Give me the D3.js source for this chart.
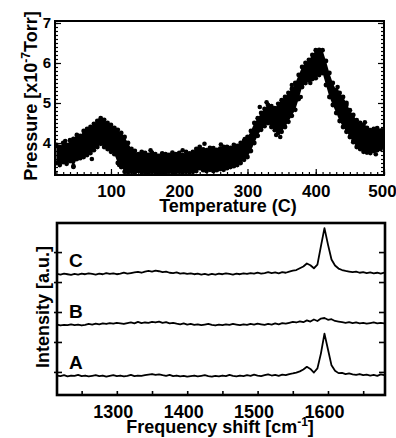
<!DOCTYPE html>
<html>
<head>
<meta charset="utf-8">
<script src="https://cdn.jsdelivr.net/npm/d3@7"></script>
<style>
  body { margin: 0; background: #fff; }
  svg { display: block; font-family: "Liberation Sans", Arial, Helvetica, sans-serif; font-weight: bold; }
</style>
</head>
<body>
<svg id="chart" width="396" height="438"></svg>
<script>
// ---- top panel: pressure vs temperature (band of scattered readings) ----
const temps = [20,25,30,35,40,45,50,55,60,65,70,75,80,85,90,95,100,105,110,115,
  120,125,130,135,140,145,150,155,160,165,170,175,180,185,190,195,200,205,210,215,
  220,225,230,235,240,245,250,255,260,265,270,275,280,285,290,295,300,305,310,315,
  320,325,330,335,340,345,350,355,360,365,370,375,380,385,390,395,400,405,410,415,
  420,425,430,435,440,445,450,455,460,465,470,475,480,485,490,495,500];

// upper / lower edge of the cloud of readings, x10^-7 Torr
const pressureUpper = [3.95,3.9,4.0,3.95,4.07,4.1,4.2,4.18,4.3,4.35,4.4,4.48,4.55,4.62,4.58,4.5,4.45,4.38,4.33,4.25,
  4.15,4.0,3.85,3.8,3.72,3.78,3.75,3.7,3.76,3.72,3.68,3.74,3.72,3.7,3.76,3.72,3.75,3.7,3.78,3.74,
  3.78,3.85,3.9,3.84,3.82,3.88,3.87,3.83,3.86,3.9,3.9,3.88,3.95,3.93,4.0,4.05,4.15,4.3,4.5,4.62,
  4.75,4.85,4.95,4.92,4.87,4.98,5.07,5.15,5.25,5.35,5.5,5.7,5.9,6.0,6.08,6.2,6.32,6.33,6.32,6.05,
  5.75,5.5,5.32,5.25,5.15,5.0,4.82,4.7,4.57,4.5,4.45,4.38,4.32,4.35,4.37,4.3,4.25];
const pressureLower = [3.5,3.45,3.52,3.48,3.55,3.42,3.6,3.62,3.65,3.7,3.75,3.82,3.9,3.98,3.9,3.85,3.78,3.72,3.5,3.4,
  3.28,3.27,3.28,3.26,3.3,3.27,3.27,3.25,3.28,3.26,3.25,3.27,3.25,3.28,3.26,3.27,3.28,3.26,3.28,3.27,
  3.28,3.3,3.37,3.32,3.3,3.33,3.3,3.32,3.35,3.33,3.37,3.4,3.42,3.45,3.5,3.58,3.65,3.8,4.0,4.18,
  4.33,4.42,4.5,4.4,4.32,4.25,4.28,4.4,4.53,4.68,4.83,5.1,5.4,5.5,5.57,5.6,5.62,5.7,5.75,5.45,
  5.15,4.95,4.75,4.55,4.4,4.28,4.15,4.02,3.9,3.85,3.78,3.76,3.75,3.8,3.82,3.85,3.9];
// isolated readings outside the main cloud [temperature, pressure]
const strayReadings = [[261,3.96],[237,3.98],[348,4.15],[342,4.2],[318,4.9],[392,5.5],[445,4.95],
  [497,4.32],[45,3.4],[33,4.05],[72,3.6],[112,3.45],[158,3.82],[205,3.82],[296,4.1],[328,5.02],
  [365,5.45],[378,5.15],[432,5.4],[455,4.05],[472,4.52],[488,3.72]];

const pressureTicks = [4,5,6,7];
const tempTicks = [100,200,300,400,500];

// ---- bottom panel: Raman spectra A, B, C (offset) ----
const freqs = [1215,1220,1225,1230,1235,1240,1245,1250,1255,1260,
  1265,1270,1275,1280,1285,1290,1295,1300,1305,1310,
  1315,1320,1325,1330,1335,1340,1345,1350,1355,1360,
  1365,1370,1375,1380,1385,1390,1395,1400,1405,1410,
  1415,1420,1425,1430,1435,1440,1445,1450,1455,1460,
  1465,1470,1475,1480,1485,1490,1495,1500,1505,1510,
  1515,1520,1525,1530,1535,1540,1545,1550,1555,1560,
  1565,1570,1575,1580,1585,1590,1595,1600,1605,1610,
  1615,1620,1625,1630,1635,1640,1645,1650,1655,1660,
  1665,1670,1675,1680];
const spectrumA = [0.88,0.86,0.89,0.85,0.88,0.87,0.90,0.86,0.88,0.85,
  0.87,0.89,0.86,0.88,0.84,0.87,0.89,0.86,0.88,0.85,
  0.87,0.90,0.86,0.88,0.87,0.89,0.91,0.93,0.90,0.92,
  0.89,0.87,0.90,0.86,0.88,0.85,0.87,0.84,0.86,0.88,
  0.85,0.87,0.89,0.86,0.84,0.87,0.85,0.88,0.86,0.90,
  0.87,0.85,0.88,0.86,0.89,0.87,0.91,0.88,0.86,0.89,
  0.92,0.88,0.90,0.87,0.91,0.89,0.93,0.95,0.98,1.02,
  1.08,1.17,1.10,0.98,1.12,1.62,2.28,1.75,1.22,1.04,
  0.96,0.97,0.93,0.95,0.92,0.90,0.93,0.89,0.91,0.88,
  0.90,0.87,0.92,0.89];
const spectrumB = [2.58,2.55,2.57,2.56,2.59,2.56,2.58,2.55,2.57,2.60,
  2.58,2.61,2.59,2.62,2.60,2.63,2.61,2.64,2.62,2.60,
  2.63,2.65,2.62,2.67,2.63,2.65,2.64,2.67,2.65,2.68,
  2.64,2.66,2.62,2.64,2.61,2.59,2.62,2.58,2.60,2.57,
  2.59,2.56,2.58,2.60,2.57,2.55,2.58,2.56,2.59,2.57,
  2.60,2.58,2.56,2.59,2.57,2.60,2.58,2.61,2.59,2.57,
  2.60,2.58,2.62,2.59,2.63,2.61,2.64,2.67,2.65,2.69,
  2.66,2.72,2.68,2.75,2.70,2.78,2.80,2.74,2.76,2.70,
  2.68,2.66,2.64,2.66,2.63,2.65,2.62,2.64,2.61,2.63,
  2.65,2.62,2.64,2.62];
const spectrumC = [4.27,4.25,4.28,4.26,4.24,4.27,4.25,4.28,4.26,4.29,
  4.27,4.25,4.28,4.26,4.30,4.27,4.29,4.26,4.28,4.31,
  4.28,4.30,4.32,4.34,4.31,4.35,4.37,4.35,4.38,4.36,
  4.33,4.35,4.31,4.30,4.32,4.28,4.30,4.27,4.29,4.26,
  4.28,4.25,4.27,4.24,4.27,4.25,4.28,4.26,4.29,4.27,
  4.25,4.28,4.26,4.29,4.27,4.30,4.28,4.31,4.28,4.30,
  4.33,4.30,4.32,4.29,4.33,4.31,4.35,4.38,4.40,4.46,
  4.52,4.62,4.56,4.46,4.58,5.20,5.80,5.25,4.75,4.55,
  4.45,4.40,4.37,4.35,4.33,4.35,4.31,4.33,4.30,4.32,
  4.29,4.31,4.28,4.31];
const spectra = [
  {label: 'A', values: spectrumA},
  {label: 'B', values: spectrumB},
  {label: 'C', values: spectrumC}
];
const freqTicks = [1300,1400,1500,1600];
const freqMinorTicks = [1250,1300,1350,1400,1450,1500,1550,1600,1650];
const intensityTicks = [1,2,3,4,5];

const svg = d3.select('#chart');
svg.append('rect').attr('width', 396).attr('height', 438).attr('fill', '#fff');

function cleanAxis(g) {
  g.attr('font-family', null).attr('font-size', null);
  g.select('.domain').remove();
  g.selectAll('.tick line').attr('stroke', '#000').attr('stroke-width', 1.2);
  g.selectAll('text').attr('fill', '#000');
}

// ================= top panel =================
const topBox = {left: 55, right: 384, top: 21, bottom: 175};
const xT = d3.scaleLinear().domain([18, 500]).range([topBox.left, topBox.right]);
const yT = d3.scaleLinear().domain([3.2, 7.05]).range([topBox.bottom, topBox.top]);

svg.append('clipPath').attr('id', 'clipTop')
  .append('rect').attr('x', topBox.left).attr('y', topBox.top)
  .attr('width', topBox.right - topBox.left).attr('height', topBox.bottom - topBox.top);

const cloud = svg.append('g').attr('clip-path', 'url(#clipTop)');
cloud.append('path')
  .datum(temps)
  .attr('fill', '#000')
  .attr('d', d3.area()
    .x((d) => xT(d))
    .y0((d, i) => yT(pressureLower[i]))
    .y1((d, i) => yT(pressureUpper[i])));
cloud.selectAll('circle.up')
  .data(temps)
  .join('circle')
  .attr('class', 'up')
  .attr('cx', (d) => xT(d))
  .attr('cy', (d, i) => yT(pressureUpper[i]))
  .attr('r', 2.4);
cloud.selectAll('circle.lo')
  .data(temps)
  .join('circle')
  .attr('class', 'lo')
  .attr('cx', (d) => xT(d))
  .attr('cy', (d, i) => yT(pressureLower[i]))
  .attr('r', 2.4);
cloud.selectAll('circle.stray')
  .data(strayReadings)
  .join('circle')
  .attr('class', 'stray')
  .attr('cx', (d) => xT(d[0]))
  .attr('cy', (d) => yT(d[1]))
  .attr('r', 2.3);

// ticks: minor + major, all pointing inward
const pMinor = d3.range(33, 71).map((v) => v / 10);
const tMinor = d3.range(20, 501, 10);

svg.append('g').attr('transform', `translate(${topBox.left},0)`)
  .call(d3.axisLeft(yT).tickValues(pMinor).tickSize(-3).tickFormat(''))
  .call(cleanAxis);
svg.append('g').attr('transform', `translate(${topBox.left},0)`)
  .call(d3.axisLeft(yT).tickValues(pressureTicks).tickSize(-6).tickPadding(4).tickFormat(d3.format('d')))
  .call(cleanAxis)
  .selectAll('text').attr('font-size', 15);
svg.append('g').attr('transform', `translate(${topBox.right},0)`)
  .call(d3.axisRight(yT).tickValues(pMinor).tickSize(-3).tickFormat(''))
  .call(cleanAxis);
svg.append('g').attr('transform', `translate(${topBox.right},0)`)
  .call(d3.axisRight(yT).tickValues(pressureTicks).tickSize(-6).tickFormat(''))
  .call(cleanAxis);
svg.append('g').attr('transform', `translate(0,${topBox.bottom})`)
  .call(d3.axisBottom(xT).tickValues(tMinor).tickSize(-3).tickFormat(''))
  .call(cleanAxis);
svg.append('g').attr('transform', `translate(0,${topBox.bottom})`)
  .call(d3.axisBottom(xT).tickValues(tempTicks).tickSize(-6).tickPadding(10).tickFormat(d3.format('d')))
  .call(cleanAxis)
  .selectAll('text').attr('font-size', 17).attr('dx', (d) => d === 500 ? -2 : 0);

svg.append('rect')
  .attr('x', topBox.left).attr('y', topBox.top)
  .attr('width', topBox.right - topBox.left).attr('height', topBox.bottom - topBox.top)
  .attr('fill', 'none').attr('stroke', '#000').attr('stroke-width', 2);

svg.append('text')
  .attr('x', 228).attr('y', 212)
  .attr('text-anchor', 'middle').attr('font-size', 18)
  .text('Temperature (C)');

const pLabel = svg.append('text')
  .attr('transform', 'translate(37,96) rotate(-90)')
  .attr('text-anchor', 'middle').attr('font-size', 18);
pLabel.append('tspan').text('Pressure [x10');
pLabel.append('tspan').attr('font-size', 12).attr('dy', -7).text('-7');
pLabel.append('tspan').attr('dy', 7).text('Torr]');

// ================= bottom panel =================
const botBox = {left: 57, right: 385, top: 223, bottom: 395};
const xB = d3.scaleLinear().domain([1215, 1681]).range([botBox.left, botBox.right]);
const yB = d3.scaleLinear().domain([0.23, 5.97]).range([botBox.bottom, botBox.top]);

const line = d3.line()
  .x((d, i) => xB(freqs[i]))
  .y((d) => yB(d));

svg.append('g')
  .selectAll('path')
  .data(spectra)
  .join('path')
  .attr('fill', 'none')
  .attr('stroke', '#000')
  .attr('stroke-width', 1.8)
  .attr('stroke-linejoin', 'round')
  .attr('d', (d) => line(d.values));

svg.append('g')
  .selectAll('text')
  .data(spectra)
  .join('text')
  .attr('x', xB(1232))
  .attr('y', (d) => yB(d.values[0]) - 7)
  .attr('font-size', 19)
  .text((d) => d.label);

// left ticks cross the frame, right ticks point inward
svg.append('g').attr('transform', `translate(${botBox.left + 5},0)`)
  .call(d3.axisLeft(yB).tickValues(intensityTicks).tickSize(8).tickFormat(''))
  .call(cleanAxis)
  .selectAll('.tick line').attr('stroke-width', 1.6);
svg.append('g').attr('transform', `translate(${botBox.right},0)`)
  .call(d3.axisRight(yB).tickValues(intensityTicks).tickSize(-6).tickFormat(''))
  .call(cleanAxis)
  .selectAll('.tick line').attr('stroke-width', 1.6);
svg.append('g').attr('transform', `translate(0,${botBox.bottom})`)
  .call(d3.axisBottom(xB).tickValues(freqMinorTicks).tickSize(-4).tickFormat(''))
  .call(cleanAxis)
  .selectAll('.tick line').attr('stroke-width', 1.6);
svg.append('g').attr('transform', `translate(0,${botBox.bottom})`)
  .call(d3.axisBottom(xB).tickValues(freqTicks).tickSize(0).tickPadding(10).tickFormat(d3.format('d')))
  .call(cleanAxis)
  .selectAll('text').attr('font-size', 18).attr('dx', -4);

svg.append('rect')
  .attr('x', botBox.left).attr('y', botBox.top)
  .attr('width', botBox.right - botBox.left).attr('height', botBox.bottom - botBox.top)
  .attr('fill', 'none').attr('stroke', '#000').attr('stroke-width', 2.6);

const fLabel = svg.append('text')
  .attr('x', 220).attr('y', 433)
  .attr('text-anchor', 'middle').attr('font-size', 18);
fLabel.append('tspan').text('Frequency shift [cm');
fLabel.append('tspan').attr('font-size', 12).attr('dy', -7).text('-1');
fLabel.append('tspan').attr('dy', 7).text(']');

svg.append('text')
  .attr('transform', 'translate(49,307) rotate(-90)')
  .attr('text-anchor', 'middle').attr('font-size', 18)
  .text('Intensity [a.u.]');
</script>
</body>
</html>
